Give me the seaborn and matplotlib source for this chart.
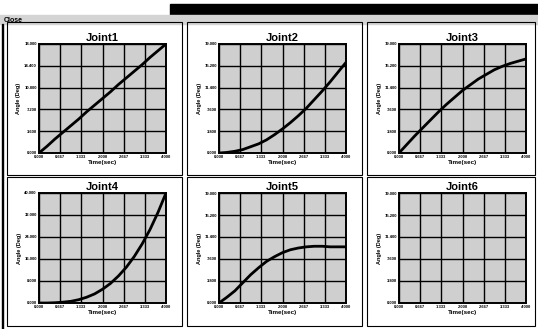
import matplotlib.pyplot as plt
import matplotlib.patches as patches
import seaborn as sns

# ── Data ──────────────────────────────────────────────────────
time = [0.0, 0.25, 0.5, 0.75, 1.0, 1.25, 1.5, 1.75, 2.0,
        2.25, 2.5, 2.75, 3.0, 3.25, 3.5, 3.75, 4.0]
joint1 = [0.0, 1.1, 2.3, 3.4, 4.5, 5.6, 6.8, 7.9, 9.0,
          10.1, 11.3, 12.4, 13.5, 14.6, 15.8, 16.9, 18.0]
joint2 = [0.0, 0.1, 0.3, 0.6, 1.1, 1.6, 2.3, 3.2, 4.2,
          5.3, 6.5, 7.8, 9.3, 10.8, 12.4, 14.1, 15.8]
joint3 = [0.0, 1.5, 3.0, 4.4, 5.8, 7.2, 8.5, 9.7, 10.9,
          11.9, 12.9, 13.7, 14.5, 15.1, 15.6, 16.0, 16.4]
joint4 = [0.0, 0.0, 0.1, 0.3, 0.6, 1.2, 2.1, 3.3, 5.0,
          7.1, 9.8, 13.0, 16.9, 21.5, 26.8, 33.0, 40.0]
joint5 = [0.0, 1.0, 2.1, 3.5, 4.9, 6.1, 7.2, 8.0, 8.7,
          9.2, 9.5, 9.7, 9.8, 9.8, 9.7, 9.7, 9.7]
joint6 = []

titles = ["Joint1", "Joint2", "Joint3", "Joint4", "Joint5", "Joint6"]
series = [joint1, joint2, joint3, joint4, joint5, joint6]
y_max = [18.0, 19.0, 19.0, 40.0, 19.0, 19.0]
x_ticks = [0.0, 0.667, 1.333, 2.0, 2.667, 3.333, 4.0]
x_labels = ["0.000", "0.667", "1.333", "2.000", "2.667", "3.333", "4.000"]

# ── Style ─────────────────────────────────────────────────────
sns.set_theme(style="white")
plt.rcParams['font.family'] = ['Liberation Sans', 'DejaVu Sans']
plt.rcParams['text.color'] = 'black'
plt.rcParams['axes.labelcolor'] = 'black'
plt.rcParams['xtick.color'] = 'black'
plt.rcParams['ytick.color'] = 'black'

W, H = 538, 329
fig = plt.figure(figsize=(W / 100, H / 100), dpi=100)
fig.patch.set_facecolor('white')


def px_rect(x0, y0, x1, y1):
    return [x0 / W, 1 - y1 / H, (x1 - x0) / W, (y1 - y0) / H]


# ── Window chrome ─────────────────────────────────────────────
fig.patches.append(patches.Rectangle((170 / W, 1 - 15 / H), (W - 170) / W, 11 / H,
                                     transform=fig.transFigure, color='black'))
fig.patches.append(patches.Rectangle((0, 1 - 24 / H), 1, 9 / H,
                                     transform=fig.transFigure, color='#d4d4d4'))
fig.text(4 / W, 1 - 20 / H, "Close", fontsize=5, fontweight='bold', va='center')
fig.patches.append(patches.Rectangle((2 / W, 0), 1 / W, 1 - 24 / H,
                                     transform=fig.transFigure, color='black'))

col_px = [(7, 182, 39, 166), (187, 362, 219, 346), (367, 535, 399, 526)]
row_px = [(22, 175, 44, 153), (177, 326, 193, 303)]

for i in range(6):
    r, c = divmod(i, 3)
    px0, px1, ax0, ax1 = col_px[c]
    py0, py1, ay0, ay1 = row_px[r]

    # panel frame
    fig.patches.append(patches.Rectangle((px0 / W, 1 - py1 / H), (px1 - px0) / W,
                                         (py1 - py0) / H, transform=fig.transFigure,
                                         fill=False, edgecolor='black', linewidth=0.8))

    ax = fig.add_axes(px_rect(ax0, ay0, ax1, ay1))
    ax.set_facecolor('#cfcfcf')
    if series[i]:
        sns.lineplot(x=time, y=series[i], ax=ax, color='black', linewidth=2)

    ymax = y_max[i]
    y_ticks = [ymax * k / 5 for k in range(6)]
    ax.set_xlim(0, 4)
    ax.set_ylim(0, ymax)
    ax.set_xticks(x_ticks)
    ax.set_xticklabels(x_labels)
    ax.set_yticks(y_ticks)
    ax.set_yticklabels([f"{v:.3f}" for v in y_ticks])
    ax.tick_params(length=0, labelsize=3, pad=1.5)
    for lab in ax.get_xticklabels() + ax.get_yticklabels():
        lab.set_fontweight('bold')
    ax.grid(True, color='black', linewidth=1.0)
    for s in ax.spines.values():
        s.set_color('black')
        s.set_linewidth(1.4)

    ax.set_title(titles[i], fontsize=8, fontweight='bold', pad=2, color='black')
    ax.set_xlabel("Time(sec)", fontsize=4.5, fontweight='bold', labelpad=1)
    ax.set_ylabel("Angle (Deg)", fontsize=4, fontweight='bold', labelpad=2)

plt.savefig("out.png", dpi=100)
